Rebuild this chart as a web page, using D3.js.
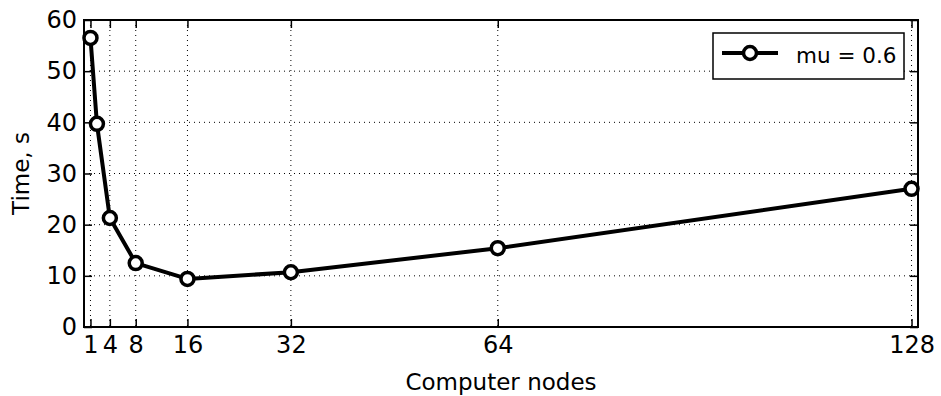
<!DOCTYPE html>
<html>
<head>
<meta charset="utf-8">
<script src="https://cdn.jsdelivr.net/npm/d3@7"></script>
<style>
body { margin: 0; background: #fff; }
text { font-family: "DejaVu Sans", sans-serif; }
</style>
</head>
<body>
<svg id="chart" width="941" height="396"></svg>
<script>
// data
var nodes = [1, 2, 4, 8, 16, 32, 64, 128];
var times = [56.5, 39.7, 21.3, 12.5, 9.4, 10.7, 15.4, 27.0];
var xTicks = [1, 4, 8, 16, 32, 64, 128];
var yTicks = [0, 10, 20, 30, 40, 50, 60];
var seriesName = "mu = 0.6";

var margin = {left: 84, right: 23, top: 20, bottom: 69},
    width = 941 - margin.left - margin.right,
    height = 396 - margin.top - margin.bottom;

var svg = d3.select("#chart");
var g = svg.append("g").attr("transform", "translate(" + margin.left + "," + margin.top + ")");

var x = d3.scaleLinear().domain([0, 129]).range([0, width]);
var y = d3.scaleLinear().domain([0, 60]).range([height, 0]);

// grid
g.append("g").selectAll("line").data(xTicks).enter().append("line")
  .attr("x1", function(d) { return x(d); }).attr("x2", function(d) { return x(d); })
  .attr("y1", 0).attr("y2", height)
  .attr("stroke", "#000").attr("stroke-width", 1).attr("stroke-dasharray", "1,4");
g.append("g").selectAll("line").data(yTicks.slice(1, -1)).enter().append("line")
  .attr("y1", function(d) { return y(d); }).attr("y2", function(d) { return y(d); })
  .attr("x1", 0).attr("x2", width)
  .attr("stroke", "#000").attr("stroke-width", 1).attr("stroke-dasharray", "1,4");

// axes (ticks inside, on all sides)
var fs = 24;
var xAxis = g.append("g").attr("transform", "translate(0," + height + ")")
  .call(d3.axisBottom(x).tickValues(xTicks).tickSizeInner(-8).tickSizeOuter(0).tickPadding(9));
var xTop = g.append("g")
  .call(d3.axisTop(x).tickValues(xTicks).tickSizeInner(-8).tickSizeOuter(0).tickFormat(""));
var yAxis = g.append("g")
  .call(d3.axisLeft(y).tickValues(yTicks).tickSizeInner(-8).tickSizeOuter(0).tickPadding(7));
var yRight = g.append("g").attr("transform", "translate(" + width + ",0)")
  .call(d3.axisRight(y).tickValues(yTicks).tickSizeInner(-8).tickSizeOuter(0).tickFormat(""));
[xAxis, xTop, yAxis, yRight].forEach(function(a) {
  a.select(".domain").remove();
  a.selectAll(".tick line").attr("stroke", "#000").attr("stroke-width", 1.5);
  a.selectAll("text").attr("font-size", fs).attr("fill", "#000")
    .style("font-family", "DejaVu Sans");
});

// frame
g.append("rect").attr("x", 0).attr("y", 0).attr("width", width).attr("height", height)
  .attr("fill", "none").attr("stroke", "#000").attr("stroke-width", 2);

// series
var pts = nodes.map(function(d, i) { return [d, times[i]]; });
var line = d3.line().x(function(d) { return x(d[0]); }).y(function(d) { return y(d[1]); });
g.append("path").datum(pts).attr("d", line)
  .attr("fill", "none").attr("stroke", "#000").attr("stroke-width", 4).attr("stroke-linejoin", "round");
g.append("g").selectAll("circle").data(pts).enter().append("circle")
  .attr("cx", function(d) { return x(d[0]); }).attr("cy", function(d) { return y(d[1]); })
  .attr("r", 6.5).attr("fill", "#fff").attr("stroke", "#000").attr("stroke-width", 3.5);

// axis labels
svg.append("text").attr("x", margin.left + width / 2).attr("y", 390)
  .attr("text-anchor", "middle").attr("font-size", 23).text("Computer nodes");
svg.append("text").attr("transform", "translate(29," + (margin.top + height / 2) + ") rotate(-90)")
  .attr("text-anchor", "middle").attr("font-size", 23).text("Time, s");

// legend
var lg = svg.append("g").attr("transform", "translate(713,33)");
lg.append("rect").attr("width", 191).attr("height", 46)
  .attr("fill", "#fff").attr("stroke", "#000").attr("stroke-width", 1.5);
lg.append("line").attr("x1", 9).attr("x2", 65).attr("y1", 20).attr("y2", 20)
  .attr("stroke", "#000").attr("stroke-width", 4);
lg.append("circle").attr("cx", 37).attr("cy", 20).attr("r", 6.5)
  .attr("fill", "#fff").attr("stroke", "#000").attr("stroke-width", 3.5);
lg.append("text").attr("x", 83).attr("y", 30).attr("font-size", 21.5).text(seriesName);
</script>
</body>
</html>
